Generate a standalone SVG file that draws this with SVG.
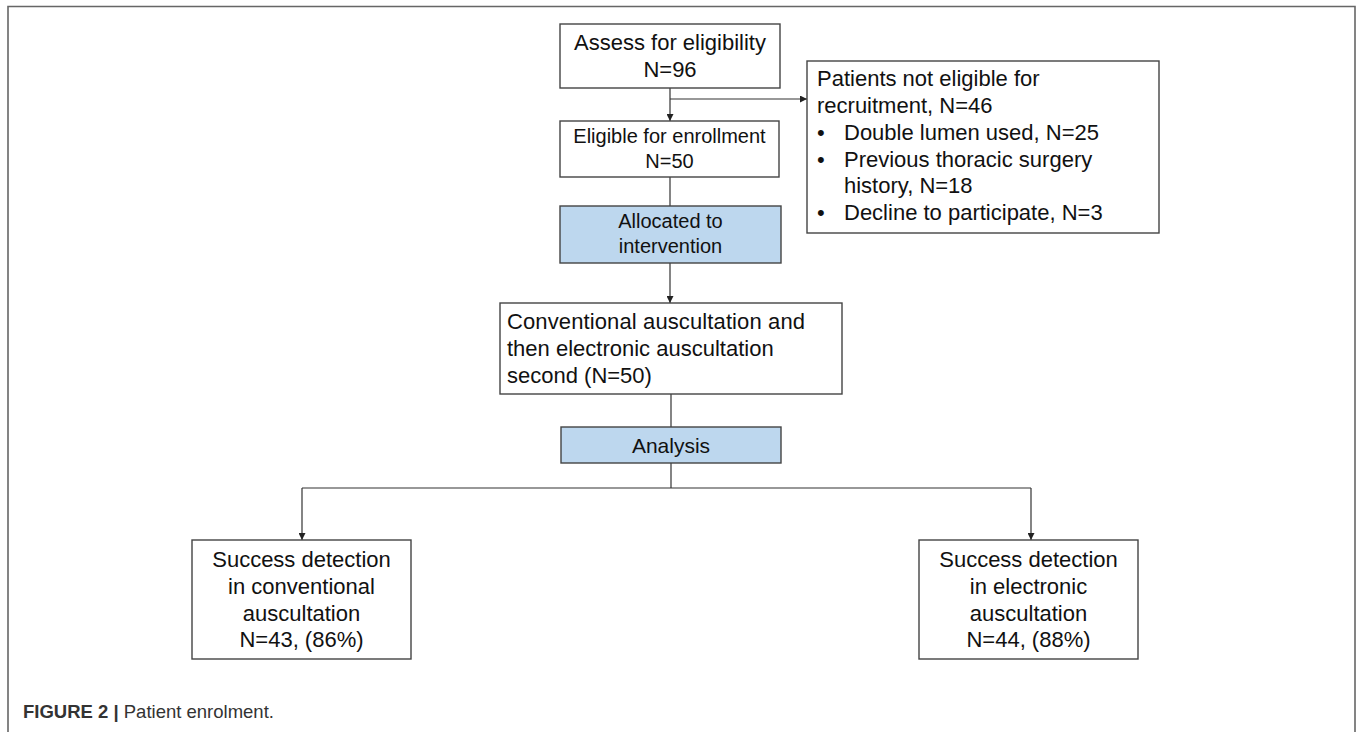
<svg xmlns="http://www.w3.org/2000/svg" width="1358" height="732" viewBox="0 0 1358 732">
<defs>
<style>
.box{fill:#ffffff;stroke:#444444;stroke-width:1.4}
.blue{fill:#bdd7ee;stroke:#444444;stroke-width:1.4}
.t{font-family:"Liberation Sans",Arial,sans-serif;font-size:22px;fill:#111111}
.s{font-size:20px}
.c{text-anchor:middle}
.ln{fill:none;stroke:#333333;stroke-width:1.2}
.frame{fill:none;stroke:#666666;stroke-width:1.6}
.cap{font-family:"Liberation Sans",Arial,sans-serif;font-size:18.5px;fill:#333333}
</style>
<marker id="ah" viewBox="0 0 10 10" refX="10" refY="5" markerWidth="7" markerHeight="7" markerUnits="userSpaceOnUse" orient="auto">
<path d="M0,0 L10,5 L0,10 z" fill="#222222"/>
</marker>
</defs>
<rect width="1358" height="732" fill="#ffffff"/>
<path class="frame" d="M8,732 L8,6.5 L1355,6.5 L1355,732"/>

<g id="connectors">
<path class="ln" d="M670,88 L670,121" marker-end="url(#ah)"/>
<path class="ln" d="M670,99 L807,99" marker-end="url(#ah)"/>
<path class="ln" d="M670,177 L670,206"/>
<path class="ln" d="M670,263 L670,303" marker-end="url(#ah)"/>
<path class="ln" d="M671,394 L671,427"/>
<path class="ln" d="M671,463 L671,488"/>
<path class="ln" d="M302,488 L1031,488"/>
<path class="ln" d="M302,488 L302,540" marker-end="url(#ah)"/>
<path class="ln" d="M1031,488 L1031,540" marker-end="url(#ah)"/>
</g>

<g id="assess">
<rect class="box" x="560" y="24" width="220" height="64"/>
<text class="t c" x="670" y="50">Assess for eligibility</text>
<text class="t c" x="670" y="77">N=96</text>
</g>

<g id="not-eligible">
<rect class="box" x="807" y="61" width="352" height="172"/>
<text class="t" x="817" y="86">Patients not eligible for</text>
<text class="t" x="817" y="113">recruitment, N=46</text>
<text class="t" x="817" y="140">•</text>
<text class="t" x="844" y="140">Double lumen used, N=25</text>
<text class="t" x="817" y="166.5">•</text>
<text class="t" x="844" y="166.5">Previous thoracic surgery</text>
<text class="t" x="844" y="193">history, N=18</text>
<text class="t" x="817" y="220">•</text>
<text class="t" x="844" y="220">Decline to participate, N=3</text>
</g>

<g id="eligible">
<rect class="box" x="560" y="121" width="219" height="56"/>
<text class="t s c" x="669.5" y="143">Eligible for enrollment</text>
<text class="t s c" x="669.5" y="168">N=50</text>
</g>

<g id="allocated">
<rect class="blue" x="560" y="206" width="221" height="57"/>
<text class="t s c" x="670.5" y="228">Allocated to</text>
<text class="t s c" x="670.5" y="253">intervention</text>
</g>

<g id="conventional">
<rect class="box" x="500" y="303" width="342" height="91"/>
<text class="t" x="507" y="329" textLength="298" lengthAdjust="spacing">Conventional auscultation and</text>
<text class="t" x="507" y="356">then electronic auscultation</text>
<text class="t" x="507" y="383">second (N=50)</text>
</g>

<g id="analysis">
<rect class="blue" x="561" y="427" width="220" height="36"/>
<text class="t c" x="671" y="453" style="font-size:21px">Analysis</text>
</g>

<g id="success-conv">
<rect class="box" x="192" y="540" width="219" height="119"/>
<text class="t c" x="301.5" y="567">Success detection</text>
<text class="t c" x="301.5" y="594">in conventional</text>
<text class="t c" x="301.5" y="621">auscultation</text>
<text class="t c" x="301.5" y="647">N=43, (86%)</text>
</g>

<g id="success-elec">
<rect class="box" x="919" y="540" width="219" height="119"/>
<text class="t c" x="1028.5" y="567">Success detection</text>
<text class="t c" x="1028.5" y="594">in electronic</text>
<text class="t c" x="1028.5" y="621">auscultation</text>
<text class="t c" x="1028.5" y="647">N=44, (88%)</text>
</g>

<text class="cap" x="23" y="718"><tspan font-weight="bold">FIGURE 2 |</tspan> Patient enrolment.</text>
</svg>
